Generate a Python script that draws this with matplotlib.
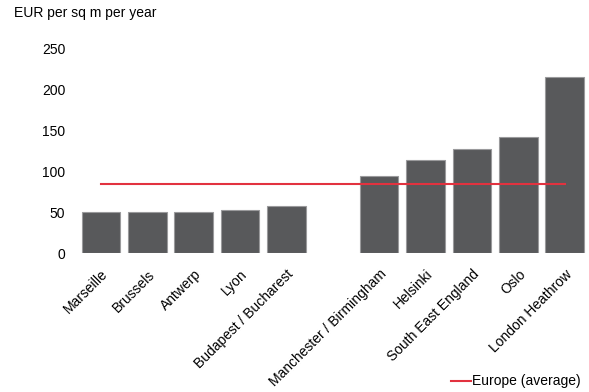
import matplotlib
matplotlib.use('Agg')
import matplotlib.pyplot as plt

plt.rcParams['font.family'] = ['Liberation Sans', 'DejaVu Sans']

cities = ['Marseille', 'Brussels', 'Antwerp', 'Lyon', 'Budapest / Bucharest',
          'Manchester / Birmingham', 'Helsinki', 'South East England', 'Oslo',
          'London Heathrow']
slots = [0, 1, 2, 3, 4, 6, 7, 8, 9, 10]
rents = [50, 51, 51, 53, 58, 95, 114, 127, 142, 216]
europe_avg = 85
yticks = [0, 50, 100, 150, 200, 250]


def main():
    fig = plt.figure(figsize=(5.89, 3.92), dpi=100)
    ax = fig.add_axes([0.132, 0.354, 0.866, 0.521])
    ax.bar(slots, rents, width=0.83, color='#58595b', edgecolor='#9a9a9c',
           linewidth=0.8)
    ax.plot([slots[0], slots[-1]], [europe_avg, europe_avg], color='#e2323f',
            linewidth=1.5, label='Europe (average)')
    ax.set_xlim(-0.5, 10.5)
    ax.set_ylim(0, 250)
    ax.set_yticks(yticks)
    ax.set_xticks(slots)
    ax.set_xticklabels(cities, rotation=45, ha='right', va='top',
                       rotation_mode='anchor')
    ax.tick_params(axis='both', length=0, labelsize=10, colors='black')
    ax.tick_params(axis='y', pad=9)
    ax.tick_params(axis='x', pad=10)
    for s in ax.spines.values():
        s.set_visible(False)
    fig.text(0.024, 0.966, 'EUR per sq m per year', fontsize=10, va='center')
    fig.legend(loc='lower right', bbox_to_anchor=(1.0, -0.012), frameon=False,
               fontsize=10, handlelength=1.4, handletextpad=0.1,
               borderaxespad=0.2)
    fig.savefig('out.png', dpi=100)


if __name__ == '__main__':
    main()
